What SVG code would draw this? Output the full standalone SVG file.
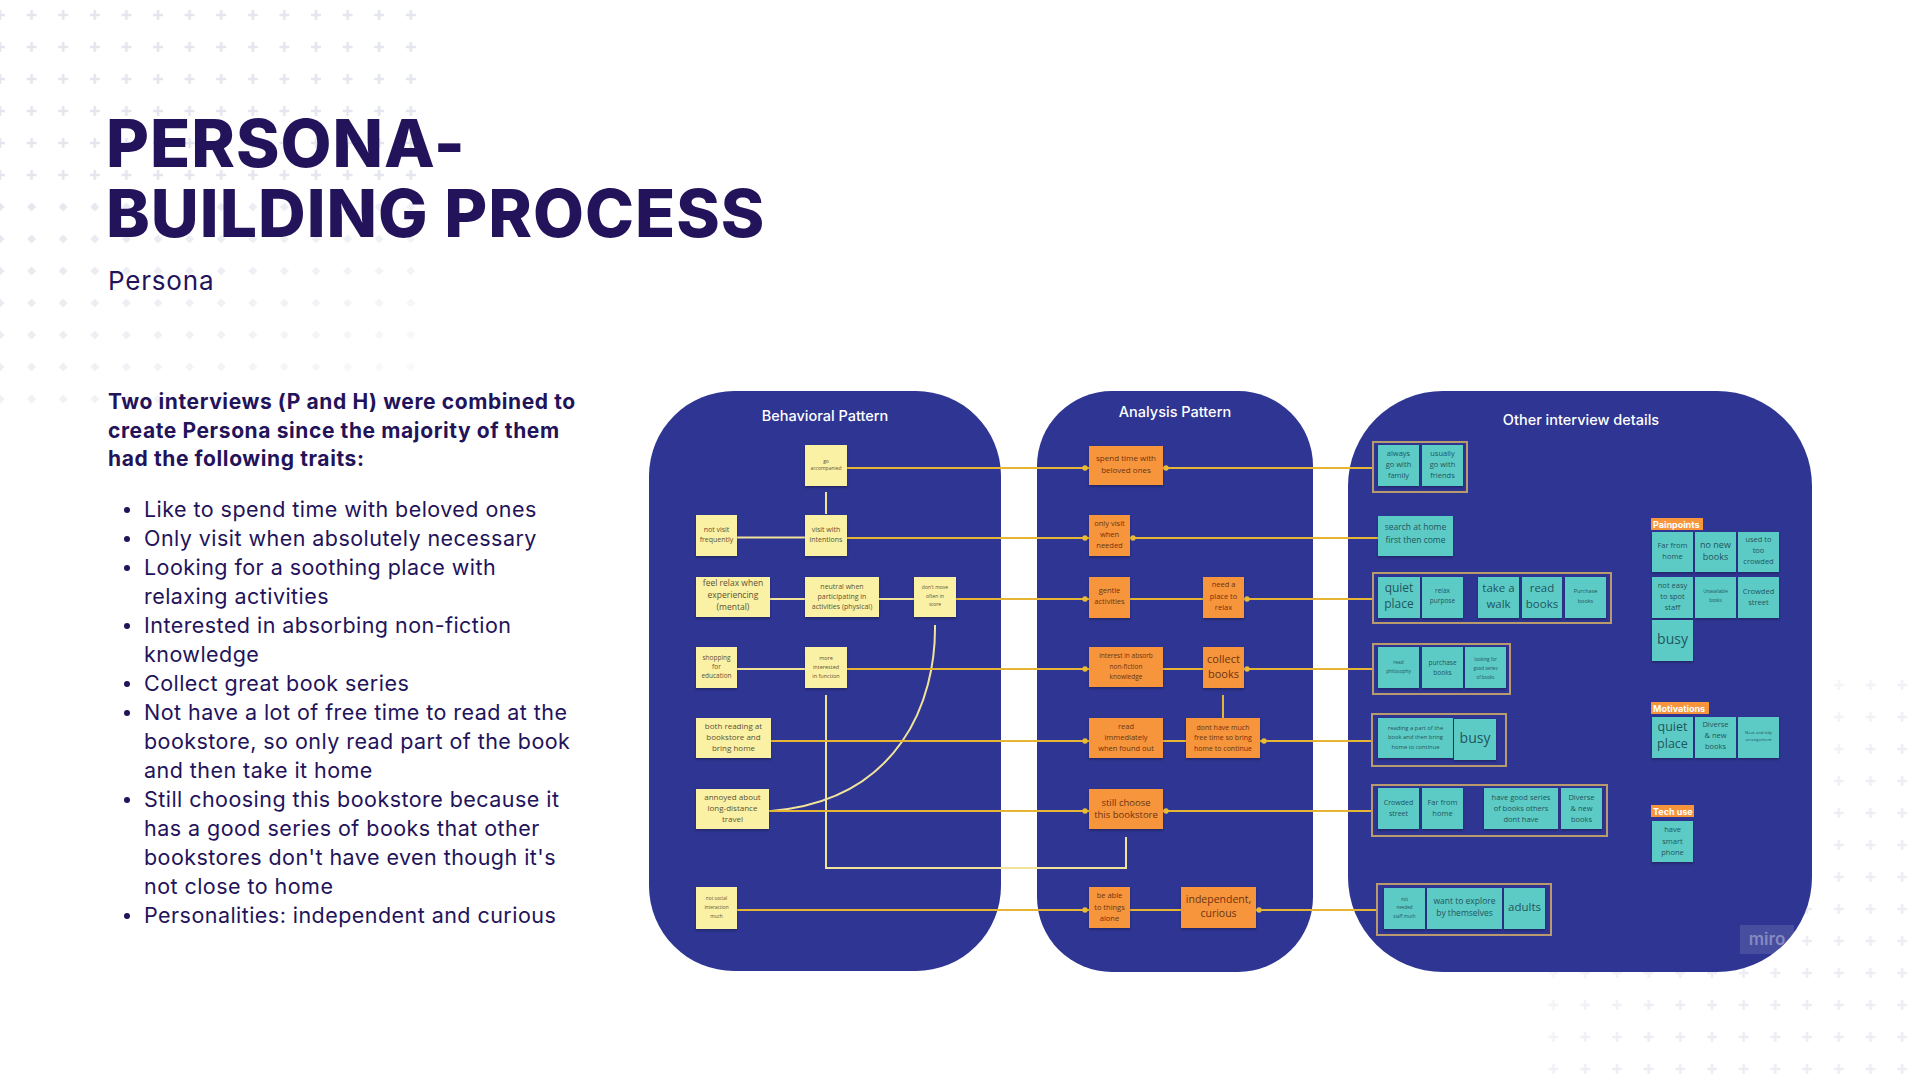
<svg xmlns="http://www.w3.org/2000/svg" width="1920" height="1080" viewBox="0 0 1920 1080">
<style>
.title{font-family:Inter,"Noto Sans",sans-serif;font-weight:800;font-size:66px;fill:#23135a;letter-spacing:1px}
.sub{font-family:Inter,"Noto Sans",sans-serif;font-size:26px;fill:#23135a;letter-spacing:0.8px}
.lead{font-family:Inter,"Noto Sans",sans-serif;font-weight:700;font-size:21px;fill:#23135a;letter-spacing:0.6px}
.bul{font-family:Inter,"Noto Sans",sans-serif;font-size:21.5px;fill:#23135a;letter-spacing:0.45px}
.bdot{fill:#23135a}
.panel{fill:#2e3592}
.ptitle{font-family:Inter,"Noto Sans",sans-serif;font-weight:500;font-size:14.5px;fill:#ffffff;text-anchor:middle}
.y{fill:#fbf1a5;filter:url(#sh)}
.o{fill:#f7953d;filter:url(#sh)}
.t{fill:#5dcbc5;filter:url(#sh)}
.ny,.no,.nt{font-family:"Open Sans","Noto Sans",sans-serif;text-anchor:middle}
.ny{fill:#5b5236}
.no{fill:#6b3410}
.nt{fill:#1f5560}
.frame{fill:none;stroke:#b89a6c;stroke-width:2}
.lab{fill:#f7953d}
.labt{font-family:Inter,"Noto Sans",sans-serif;font-weight:700;font-size:9px;fill:#ffffff}
.cp{fill:none;stroke:#f1e49a;stroke-width:2}
.cg{fill:none;stroke:#e6b533;stroke-width:2}
.dot{fill:#e9bb37}
</style>
<defs>
<filter id="sh" x="-10%" y="-10%" width="120%" height="130%">
<feDropShadow dx="0" dy="1.5" stdDeviation="1" flood-color="#000" flood-opacity="0.3"/>
</filter>
<pattern id="plusTL" patternUnits="userSpaceOnUse" x="-15.8" y="-1" width="31.6" height="32">
<path d="M15.8 11v10M10.8 16h10" stroke="#e4e6ee" stroke-width="2.6"/>
</pattern>
<pattern id="diaTL" patternUnits="userSpaceOnUse" x="-15.8" y="-1" width="31.6" height="32">
<path d="M15.8 11.5l4.5 4.5-4.5 4.5-4.5-4.5z" fill="#e4e6ee"/>
</pattern>
<pattern id="plusBR" patternUnits="userSpaceOnUse" x="1696.15" y="957" width="31.7" height="32">
<path d="M15.85 11v10M10.85 16h10" stroke="#eceef3" stroke-width="2.6"/>
</pattern>
<linearGradient id="gTL" x1="0" y1="0" x2="1" y2="1">
<stop offset="0" stop-color="#fff"/>
<stop offset="1" stop-color="#fff" stop-opacity="0.15"/>
</linearGradient>
<linearGradient id="gBR" x1="0" y1="0" x2="1" y2="1">
<stop offset="0.15" stop-color="#fff" stop-opacity="0"/>
<stop offset="0.6" stop-color="#fff"/>
</linearGradient>
<mask id="mTL"><rect x="0" y="192" width="420" height="224" fill="url(#gTL)"/></mask>
<mask id="mBR"><rect x="1530" y="660" width="390" height="420" fill="url(#gBR)"/></mask>
</defs>

<rect width="1920" height="1080" fill="#ffffff"/>

<g id="background-pattern">
<rect x="0" y="0" width="420" height="192" fill="url(#plusTL)"/>
<rect x="0" y="192" width="420" height="224" fill="url(#diaTL)" mask="url(#mTL)"/>
<rect x="1530" y="660" width="390" height="420" fill="url(#plusBR)" mask="url(#mBR)"/>
</g>

<g id="heading">
<text class="title"><tspan x="106" y="167">PERSONA-</tspan><tspan x="106" y="237">BUILDING PROCESS</tspan></text>
<text class="sub" x="108" y="290">Persona</text>
</g>

<g id="description">
<text class="lead"><tspan x="108" y="409">Two interviews (P and H) were combined to</tspan><tspan x="108" y="438">create Persona since the majority of them</tspan><tspan x="108" y="466">had the following traits:</tspan></text>
<circle class="bdot" cx="127" cy="510" r="3"/>
<circle class="bdot" cx="127" cy="539" r="3"/>
<circle class="bdot" cx="127" cy="568" r="3"/>
<circle class="bdot" cx="127" cy="626" r="3"/>
<circle class="bdot" cx="127" cy="684" r="3"/>
<circle class="bdot" cx="127" cy="713" r="3"/>
<circle class="bdot" cx="127" cy="800" r="3"/>
<circle class="bdot" cx="127" cy="916" r="3"/>
<text class="bul">
<tspan x="144" y="517">Like to spend time with beloved ones</tspan>
<tspan x="144" y="546">Only visit when absolutely necessary</tspan>
<tspan x="144" y="575">Looking for a soothing place with</tspan>
<tspan x="144" y="604">relaxing activities</tspan>
<tspan x="144" y="633">Interested in absorbing non-fiction</tspan>
<tspan x="144" y="662">knowledge</tspan>
<tspan x="144" y="691">Collect great book series</tspan>
<tspan x="144" y="720">Not have a lot of free time to read at the</tspan>
<tspan x="144" y="749">bookstore, so only read part of the book</tspan>
<tspan x="144" y="778">and then take it home</tspan>
<tspan x="144" y="807">Still choosing this bookstore because it</tspan>
<tspan x="144" y="836">has a good series of books that other</tspan>
<tspan x="144" y="865">bookstores don't have even though it's</tspan>
<tspan x="144" y="894">not close to home</tspan>
<tspan x="144" y="923">Personalities: independent and curious</tspan>
</text>
</g>

<g id="panel-behavioral">
<rect class="panel" x="649" y="391" width="352" height="580" rx="85"/>
<text class="ptitle" x="825" y="421">Behavioral Pattern</text>
</g>
<g id="panel-analysis">
<rect class="panel" x="1037" y="391" width="276" height="581" rx="75"/>
<text class="ptitle" x="1175" y="417">Analysis Pattern</text>
</g>
<g id="panel-other">
<rect class="panel" x="1348" y="391" width="464" height="581" rx="95"/>
<text class="ptitle" x="1581" y="425">Other interview details</text>
</g>

<g id="connectors">
<path class="cp" d="M826 492V514"/>
<path class="cp" d="M737 537.5H805"/>
<path class="cp" d="M770 599H805"/>
<path class="cp" d="M879 599H914"/>
<path class="cp" d="M737 669H805"/>
<path class="cp" d="M826 695V868H1126V837"/>
<path class="cp" d="M935 625C936 700 900 800 771 811"/>
<path class="cg" d="M847 468H1089"/>
<path class="cg" d="M1163 468H1373"/>
<path class="cg" d="M847 538H1089"/>
<path class="cg" d="M1130 538H1378"/>
<path class="cg" d="M956 599H1089"/>
<path class="cg" d="M1130 599H1203"/>
<path class="cg" d="M1244 599H1373"/>
<path class="cg" d="M847 669H1089"/>
<path class="cg" d="M1163 669H1203"/>
<path class="cg" d="M1244 669H1373"/>
<path class="cg" d="M1223 695V718"/>
<path class="cg" d="M771 741H1089"/>
<path class="cg" d="M1163 741H1186"/>
<path class="cg" d="M1260 741H1372"/>
<path class="cg" d="M769 811H1089"/>
<path class="cg" d="M1163 811H1372"/>
<path class="cg" d="M737 910H1089"/>
<path class="cg" d="M1130 910H1181"/>
<path class="cg" d="M1256 910H1377"/>
<circle class="dot" cx="1085" cy="468" r="2.7"/>
<circle class="dot" cx="1166" cy="468" r="2.7"/>
<circle class="dot" cx="1085" cy="538" r="2.7"/>
<circle class="dot" cx="1133" cy="538" r="2.7"/>
<circle class="dot" cx="1085" cy="599" r="2.7"/>
<circle class="dot" cx="1247" cy="599" r="2.7"/>
<circle class="dot" cx="1085" cy="669" r="2.7"/>
<circle class="dot" cx="1247" cy="669" r="2.7"/>
<circle class="dot" cx="1085" cy="741" r="2.7"/>
<circle class="dot" cx="1264" cy="741" r="2.7"/>
<circle class="dot" cx="1085" cy="811" r="2.7"/>
<circle class="dot" cx="1166" cy="811" r="2.7"/>
<circle class="dot" cx="1085" cy="910" r="2.7"/>
<circle class="dot" cx="1259" cy="910" r="2.7"/>
</g>

<!-- Behavioral notes -->
<g id="b-go-accompanied"><rect class="y" x="805" y="445" width="42" height="41"/>
<text class="ny" font-size="5"><tspan x="826" y="463">go</tspan><tspan x="826" y="470">accompanied</tspan></text></g>
<g id="b-not-visit"><rect class="y" x="696" y="515" width="41" height="41"/>
<text class="ny" font-size="7"><tspan x="716.5" y="532">not visit</tspan><tspan x="716.5" y="542">frequently</tspan></text></g>
<g id="b-visit-intentions"><rect class="y" x="805" y="515" width="42" height="41"/>
<text class="ny" font-size="7"><tspan x="826" y="532">visit with</tspan><tspan x="826" y="542">intentions</tspan></text></g>
<g id="b-feel-relax"><rect class="y" x="696" y="577" width="74" height="40"/>
<text class="ny" font-size="8.5"><tspan x="733" y="586">feel relax when</tspan><tspan x="733" y="598">experiencing</tspan><tspan x="733" y="610">(mental)</tspan></text></g>
<g id="b-neutral"><rect class="y" x="805" y="577" width="74" height="40"/>
<text class="ny" font-size="7"><tspan x="842" y="588.5">neutral when</tspan><tspan x="842" y="598.5">participating in</tspan><tspan x="842" y="608.5">activities (physical)</tspan></text></g>
<g id="b-dont-move"><rect class="y" x="914" y="577" width="42" height="40"/>
<text class="ny" font-size="5"><tspan x="935" y="589">don't move</tspan><tspan x="935" y="597.5">often in</tspan><tspan x="935" y="606">store</tspan></text></g>
<g id="b-shopping"><rect class="y" x="696" y="647" width="41" height="41"/>
<text class="ny" font-size="6.5"><tspan x="716.5" y="659.5">shopping</tspan><tspan x="716.5" y="668.5">for</tspan><tspan x="716.5" y="678">education</tspan></text></g>
<g id="b-more-interested"><rect class="y" x="805" y="647" width="42" height="41"/>
<text class="ny" font-size="5.5"><tspan x="826" y="660">more</tspan><tspan x="826" y="669">interested</tspan><tspan x="826" y="678">in function</tspan></text></g>
<g id="b-both-reading"><rect class="y" x="696" y="718" width="75" height="40"/>
<text class="ny" font-size="8"><tspan x="733.5" y="729">both reading at</tspan><tspan x="733.5" y="740">bookstore and</tspan><tspan x="733.5" y="751">bring home</tspan></text></g>
<g id="b-annoyed"><rect class="y" x="696" y="789" width="73" height="40"/>
<text class="ny" font-size="8"><tspan x="732.5" y="800">annoyed about</tspan><tspan x="732.5" y="811">long-distance</tspan><tspan x="732.5" y="822">travel</tspan></text></g>
<g id="b-not-social"><rect class="y" x="696" y="887" width="41" height="42"/>
<text class="ny" font-size="4.8"><tspan x="716.5" y="899.5">not social</tspan><tspan x="716.5" y="908.5">interaction</tspan><tspan x="716.5" y="917.5">much</tspan></text></g>

<!-- Analysis notes -->
<g id="a-spend-time"><rect class="o" x="1089" y="446" width="74" height="39"/>
<text class="no" font-size="8"><tspan x="1126" y="461">spend time with</tspan><tspan x="1126" y="473">beloved ones</tspan></text></g>
<g id="a-only-visit"><rect class="o" x="1089" y="515" width="41" height="41"/>
<text class="no" font-size="7.5"><tspan x="1109.5" y="525.5">only visit</tspan><tspan x="1109.5" y="536.5">when</tspan><tspan x="1109.5" y="547.5">needed</tspan></text></g>
<g id="a-gentle"><rect class="o" x="1089" y="577" width="41" height="41"/>
<text class="no" font-size="7.5"><tspan x="1109.5" y="592.5">gentle</tspan><tspan x="1109.5" y="603.5">activities</tspan></text></g>
<g id="a-need-place"><rect class="o" x="1203" y="577" width="41" height="41"/>
<text class="no" font-size="7.5"><tspan x="1223.5" y="586.5">need a</tspan><tspan x="1223.5" y="598.5">place to</tspan><tspan x="1223.5" y="609.5">relax</tspan></text></g>
<g id="a-interest"><rect class="o" x="1089" y="647" width="74" height="40"/>
<text class="no" font-size="6.5"><tspan x="1126" y="658">interest in absorb</tspan><tspan x="1126" y="669">non-fiction</tspan><tspan x="1126" y="679">knowledge</tspan></text></g>
<g id="a-collect"><rect class="o" x="1203" y="647" width="41" height="41"/>
<text class="no" font-size="11"><tspan x="1223.5" y="663">collect</tspan><tspan x="1223.5" y="678">books</tspan></text></g>
<g id="a-read-immediately"><rect class="o" x="1089" y="718" width="74" height="40"/>
<text class="no" font-size="7.5"><tspan x="1126" y="729">read</tspan><tspan x="1126" y="740">immediately</tspan><tspan x="1126" y="751">when found out</tspan></text></g>
<g id="a-dont-have"><rect class="o" x="1186" y="718" width="74" height="40"/>
<text class="no" font-size="7"><tspan x="1223" y="729.5">dont have much</tspan><tspan x="1223" y="740">free time so bring</tspan><tspan x="1223" y="750.5">home to continue</tspan></text></g>
<g id="a-still-choose"><rect class="o" x="1089" y="789" width="74" height="40"/>
<text class="no" font-size="9.5"><tspan x="1126" y="805.5">still choose</tspan><tspan x="1126" y="818">this bookstore</tspan></text></g>
<g id="a-be-able"><rect class="o" x="1089" y="887" width="41" height="41"/>
<text class="no" font-size="7.5"><tspan x="1109.5" y="897.5">be able</tspan><tspan x="1109.5" y="909.5">to things</tspan><tspan x="1109.5" y="920.5">alone</tspan></text></g>
<g id="a-independent"><rect class="o" x="1181" y="887" width="75" height="41"/>
<text class="no" font-size="10.5"><tspan x="1218.5" y="903">independent,</tspan><tspan x="1218.5" y="917">curious</tspan></text></g>

<!-- Other interview details -->
<g id="o-group-company">
<rect class="frame" x="1373" y="442" width="94" height="50"/>
<rect class="t" x="1378" y="445" width="41" height="41"/>
<text class="nt" font-size="7.5"><tspan x="1398.5" y="455.5">always</tspan><tspan x="1398.5" y="466.5">go with</tspan><tspan x="1398.5" y="477.5">family</tspan></text>
<rect class="t" x="1422" y="445" width="41" height="41"/>
<text class="nt" font-size="7.5"><tspan x="1442.5" y="455.5">usually</tspan><tspan x="1442.5" y="466.5">go with</tspan><tspan x="1442.5" y="477.5">friends</tspan></text>
</g>
<g id="o-search">
<rect class="t" x="1378" y="516" width="75" height="40"/>
<text class="nt" font-size="8.5"><tspan x="1415.5" y="530">search at home</tspan><tspan x="1415.5" y="543">first then come</tspan></text>
</g>
<g id="o-group-relax">
<rect class="frame" x="1373" y="573" width="238" height="50"/>
<rect class="t" x="1378" y="577" width="42" height="41"/>
<text class="nt" font-size="12"><tspan x="1399" y="592">quiet</tspan><tspan x="1399" y="608">place</tspan></text>
<rect class="t" x="1422" y="577" width="41" height="41"/>
<text class="nt" font-size="6.5"><tspan x="1442.5" y="592.5">relax</tspan><tspan x="1442.5" y="603">purpose</tspan></text>
<rect class="t" x="1478" y="577" width="41" height="41"/>
<text class="nt" font-size="11.5"><tspan x="1498.5" y="592">take a</tspan><tspan x="1498.5" y="608">walk</tspan></text>
<rect class="t" x="1522" y="577" width="40" height="41"/>
<text class="nt" font-size="11.5"><tspan x="1542" y="592">read</tspan><tspan x="1542" y="608">books</tspan></text>
<rect class="t" x="1565" y="577" width="41" height="41"/>
<text class="nt" font-size="5.5"><tspan x="1585.5" y="593">Purchase</tspan><tspan x="1585.5" y="603">books</tspan></text>
</g>
<g id="o-group-books">
<rect class="frame" x="1373" y="644" width="137" height="50"/>
<rect class="t" x="1378" y="647" width="41" height="41"/>
<text class="nt" font-size="4.8"><tspan x="1398.5" y="663.5">read</tspan><tspan x="1398.5" y="672.5">philosophy</tspan></text>
<rect class="t" x="1422" y="647" width="41" height="41"/>
<text class="nt" font-size="6.5"><tspan x="1442.5" y="665">purchase</tspan><tspan x="1442.5" y="675">books</tspan></text>
<rect class="t" x="1465" y="647" width="41" height="41"/>
<text class="nt" font-size="4.5"><tspan x="1485.5" y="660.5">looking for</tspan><tspan x="1485.5" y="669.5">good series</tspan><tspan x="1485.5" y="678.5">of books</tspan></text>
</g>
<g id="o-group-busy">
<rect class="frame" x="1372" y="714" width="134" height="52"/>
<rect class="t" x="1378" y="718" width="75" height="40"/>
<text class="nt" font-size="5.8"><tspan x="1415.5" y="730">reading a part of the</tspan><tspan x="1415.5" y="739">book and then bring</tspan><tspan x="1415.5" y="749">home to continue</tspan></text>
<rect class="t" x="1454" y="719" width="42" height="41"/>
<text class="nt" font-size="14"><tspan x="1475" y="743">busy</tspan></text>
</g>
<g id="o-group-store">
<rect class="frame" x="1372" y="785" width="235" height="51"/>
<rect class="t" x="1378" y="788" width="41" height="41"/>
<text class="nt" font-size="7"><tspan x="1398.5" y="804.5">Crowded</tspan><tspan x="1398.5" y="815.5">street</tspan></text>
<rect class="t" x="1422" y="788" width="41" height="41"/>
<text class="nt" font-size="7.5"><tspan x="1442.5" y="804.5">Far from</tspan><tspan x="1442.5" y="815.5">home</tspan></text>
<rect class="t" x="1484" y="788" width="74" height="41"/>
<text class="nt" font-size="7.5"><tspan x="1521" y="799.5">have good series</tspan><tspan x="1521" y="810.5">of books others</tspan><tspan x="1521" y="821.5">dont have</tspan></text>
<rect class="t" x="1561" y="788" width="41" height="41"/>
<text class="nt" font-size="7.5"><tspan x="1581.5" y="799.5">Diverse</tspan><tspan x="1581.5" y="810.5">&amp; new</tspan><tspan x="1581.5" y="821.5">books</tspan></text>
</g>
<g id="o-group-explore">
<rect class="frame" x="1377" y="884" width="174" height="51"/>
<rect class="t" x="1384" y="888" width="41" height="41"/>
<text class="nt" font-size="4.5"><tspan x="1404.5" y="900.5">not</tspan><tspan x="1404.5" y="908.5">needed</tspan><tspan x="1404.5" y="917.5">staff much</tspan></text>
<rect class="t" x="1427" y="888" width="75" height="41"/>
<text class="nt" font-size="8.5"><tspan x="1464.5" y="904">want to explore</tspan><tspan x="1464.5" y="916">by themselves</tspan></text>
<rect class="t" x="1504" y="888" width="41" height="41"/>
<text class="nt" font-size="11.5"><tspan x="1524.5" y="911">adults</tspan></text>
</g>

<g id="o-painpoints">
<rect class="lab" x="1651" y="518" width="52" height="12"/>
<text class="labt" x="1653" y="527.5">Painpoints</text>
<rect class="t" x="1652" y="532" width="41" height="40"/>
<text class="nt" font-size="7.5"><tspan x="1672.5" y="547.5">Far from</tspan><tspan x="1672.5" y="558.5">home</tspan></text>
<rect class="t" x="1695" y="532" width="41" height="40"/>
<text class="nt" font-size="9"><tspan x="1715.5" y="547.5">no new</tspan><tspan x="1715.5" y="560">books</tspan></text>
<rect class="t" x="1738" y="532" width="41" height="40"/>
<text class="nt" font-size="7.5"><tspan x="1758.5" y="541.5">used to</tspan><tspan x="1758.5" y="552.5">too</tspan><tspan x="1758.5" y="564">crowded</tspan></text>
<rect class="t" x="1652" y="577" width="41" height="41"/>
<text class="nt" font-size="7.5"><tspan x="1672.5" y="587.5">not easy</tspan><tspan x="1672.5" y="598.5">to spot</tspan><tspan x="1672.5" y="609.5">staff</tspan></text>
<rect class="t" x="1695" y="577" width="41" height="41"/>
<text class="nt" font-size="4.5"><tspan x="1715.5" y="592.5">Unavailable</tspan><tspan x="1715.5" y="601.5">books</tspan></text>
<rect class="t" x="1738" y="577" width="41" height="41"/>
<text class="nt" font-size="7.5"><tspan x="1758.5" y="593.5">Crowded</tspan><tspan x="1758.5" y="604.5">street</tspan></text>
<rect class="t" x="1652" y="620" width="41" height="41"/>
<text class="nt" font-size="14"><tspan x="1672.5" y="644">busy</tspan></text>
</g>
<g id="o-motivations">
<rect class="lab" x="1651" y="702" width="58" height="12"/>
<text class="labt" x="1653" y="711.5">Motivations</text>
<rect class="t" x="1652" y="717" width="41" height="41"/>
<text class="nt" font-size="12.5"><tspan x="1672.5" y="731">quiet</tspan><tspan x="1672.5" y="748">place</tspan></text>
<rect class="t" x="1695" y="717" width="41" height="41"/>
<text class="nt" font-size="7.5"><tspan x="1715.5" y="726.5">Diverse</tspan><tspan x="1715.5" y="737.5">&amp; new</tspan><tspan x="1715.5" y="748.5">books</tspan></text>
<rect class="t" x="1738" y="717" width="41" height="41"/>
<text class="nt" font-size="4.3"><tspan x="1758.5" y="733.5">Neat and tidy</tspan><tspan x="1758.5" y="740.5">arrangement</tspan></text>
</g>
<g id="o-tech-use">
<rect class="lab" x="1651" y="805" width="43" height="12"/>
<text class="labt" x="1653" y="814.5">Tech use</text>
<rect class="t" x="1652" y="821" width="41" height="41"/>
<text class="nt" font-size="7.5"><tspan x="1672.5" y="831.5">have</tspan><tspan x="1672.5" y="843.5">smart</tspan><tspan x="1672.5" y="854.5">phone</tspan></text>
</g>

<g id="miro-watermark">
<rect x="1740" y="925" width="54" height="29" fill="#ffffff" fill-opacity="0.12"/>
<text x="1767" y="945" font-family="Inter,'Noto Sans',sans-serif" font-size="17" font-weight="600" fill="#ffffff" fill-opacity="0.35" text-anchor="middle">miro</text>
</g>
</svg>
